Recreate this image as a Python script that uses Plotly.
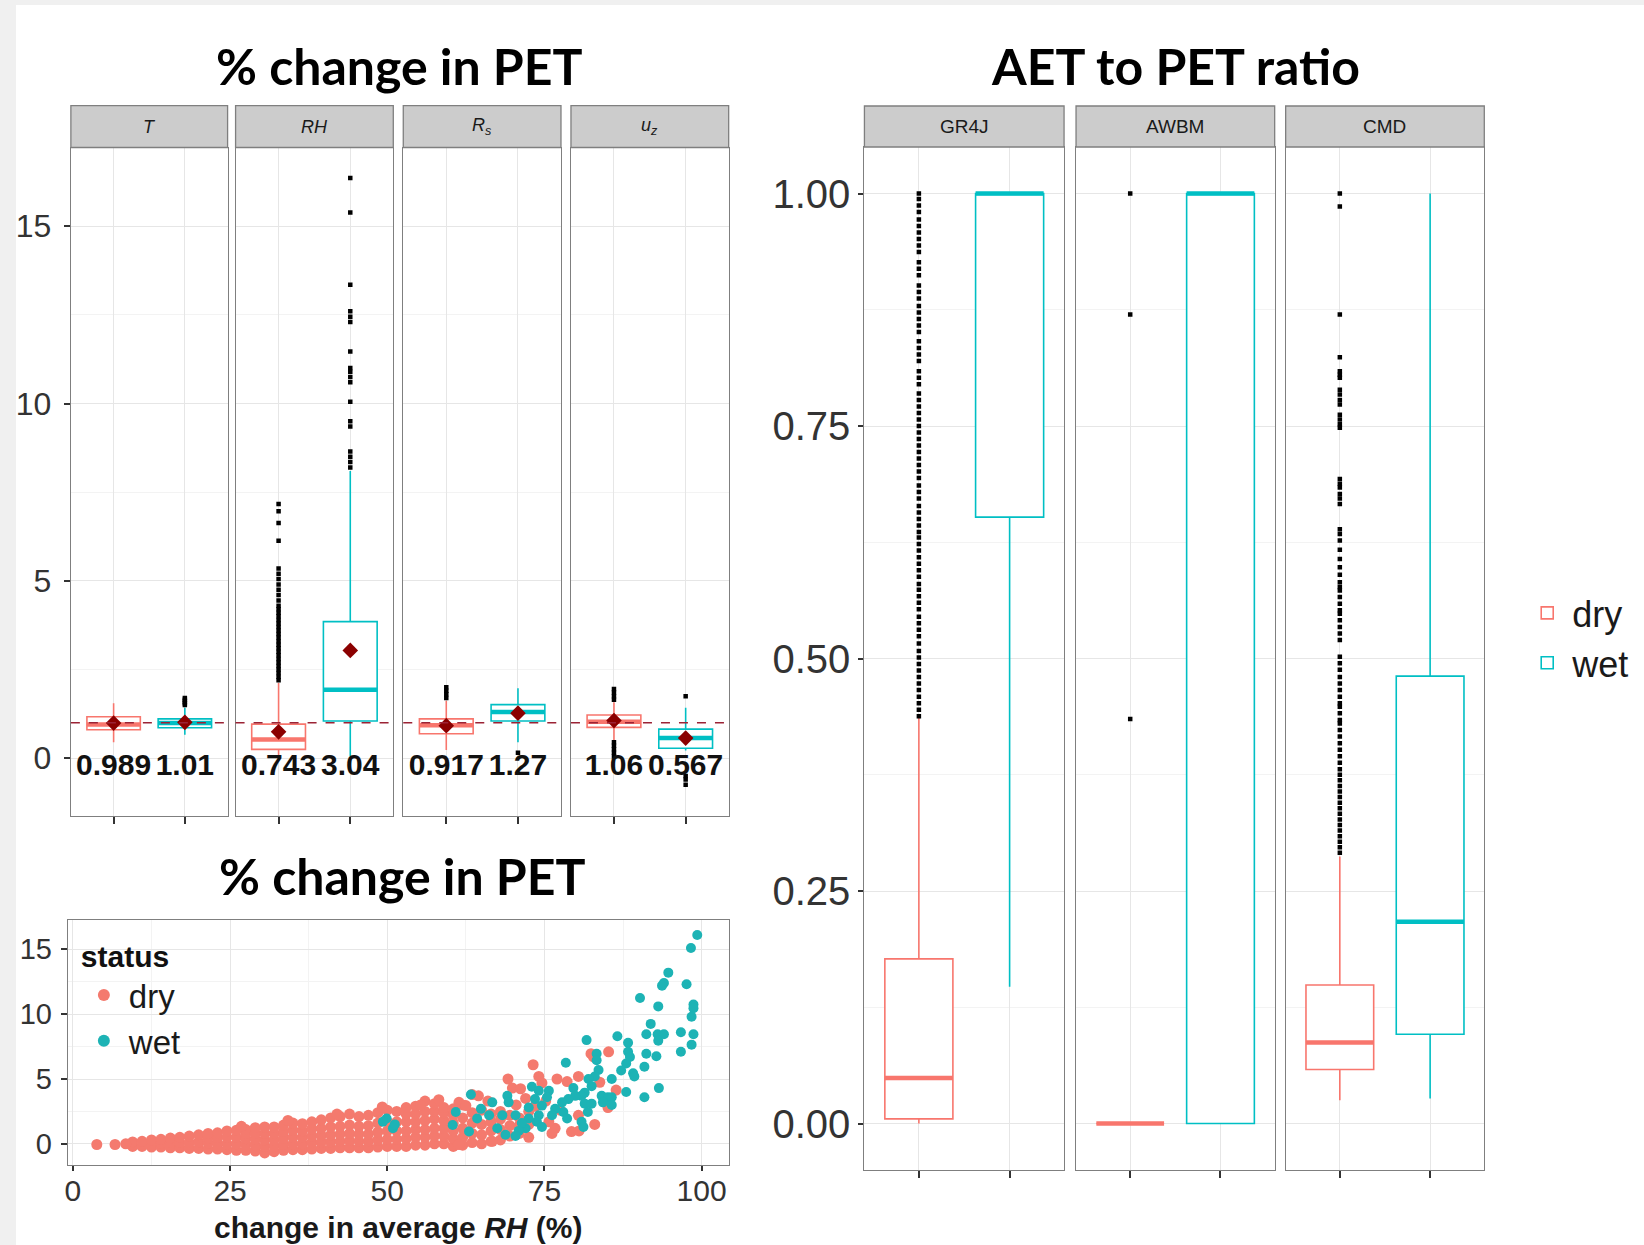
import plotly.graph_objects as go

W, H = 1644, 1245

# ---------------- data ----------------
STATUS = ["dry", "wet"]

# % change in PET boxplots, per variable: [dry, wet]
PET_VARS = ["T", "RH", "Rs", "uz"]
PET_STRIP = ["<i>T</i>", "<i>RH</i>", "<i>R</i><sub><i>s</i></sub>", "<i>u</i><sub><i>z</i></sub>"]
PET_Q1 = {"T": [0.80, 0.86], "RH": [0.25, 1.05], "Rs": [0.69, 1.05], "uz": [0.87, 0.28]}
PET_MED = {"T": [0.95, 0.99], "RH": [0.53, 1.93], "Rs": [0.93, 1.30], "uz": [1.03, 0.57]}
PET_Q3 = {"T": [1.17, 1.11], "RH": [0.96, 3.85], "Rs": [1.11, 1.51], "uz": [1.22, 0.82]}
PET_LO = {"T": [0.45, 0.66], "RH": [0.03, 0.05], "Rs": [0.23, 0.45], "uz": [0.50, 0.22]}
PET_HI = {"T": [1.55, 1.42], "RH": [2.12, 8.10], "Rs": [1.62, 1.97], "uz": [1.58, 1.42]}
PET_MEAN = {"T": [0.989, 1.01], "RH": [0.743, 3.04], "Rs": [0.917, 1.27], "uz": [1.06, 0.567]}
PET_OUT = {
    "T": [[], [1.50, 1.55, 1.60, 1.65, 1.70]],
    "RH": [[2.2, 2.3, 2.4, 2.5, 2.6, 2.7, 2.8, 2.9, 3.0, 3.1, 3.2, 3.3, 3.4, 3.5, 3.6, 3.7,
            3.8, 3.9, 4.0, 4.1, 4.2, 4.3, 4.45, 4.6, 4.75, 4.9, 5.05, 5.2, 5.35, 6.13,
            6.63, 6.96, 7.17],
           [8.2, 8.35, 8.5, 8.65, 9.35, 9.5, 10.05, 10.6, 10.75, 10.9, 11.0, 11.47,
            12.3, 12.45, 12.6, 13.35, 15.39, 16.36]],
    "Rs": [[1.7, 1.8, 1.9, 2.0], [0.15]],
    "uz": [[1.65, 1.75, 1.85, 1.95, 0.45, 0.35, 0.25, 0.15, 0.05], [1.75, -0.5, -0.6, -0.75]],
}
REF_LINE = 1.0

# AET to PET ratio boxplots
AET_MODELS = ["GR4J", "AWBM", "CMD"]
AET_Q1 = {"GR4J": [0.005, 0.652], "AWBM": [0.0, 0.0], "CMD": [0.058, 0.096]}
AET_MED = {"GR4J": [0.049, 1.0], "AWBM": [0.0, 1.0], "CMD": [0.087, 0.217]}
AET_Q3 = {"GR4J": [0.177, 1.0], "AWBM": [0.0, 1.0], "CMD": [0.149, 0.481]}
AET_LO = {"GR4J": [0.0, 0.147], "AWBM": [0.0, 0.0], "CMD": [0.025, 0.027]}
AET_HI = {"GR4J": [0.437, 1.0], "AWBM": [0.0, 1.0], "CMD": [0.287, 1.0]}
AET_OUT = {
    "GR4J": [[0.438, 0.445, 0.452, 0.459, 0.466, 0.473, 0.480, 0.487, 0.494, 0.501, 0.508,
              0.516, 0.524, 0.531, 0.538, 0.545, 0.553, 0.560, 0.567, 0.574, 0.580, 0.588,
              0.595, 0.602, 0.609, 0.616, 0.623, 0.630, 0.636, 0.643, 0.650, 0.657, 0.664,
              0.672, 0.679, 0.686, 0.694, 0.701, 0.708, 0.715, 0.722, 0.729, 0.736, 0.743,
              0.750, 0.757, 0.764, 0.771, 0.778, 0.785, 0.795, 0.802, 0.809, 0.820, 0.827,
              0.834, 0.841, 0.851, 0.858, 0.865, 0.872, 0.879, 0.887, 0.894, 0.901, 0.912,
              0.919, 0.926, 0.937, 0.944, 0.951, 0.958, 0.965, 0.972, 0.980, 0.987, 0.994,
              1.0], []],
    "AWBM": [[1.0, 0.870, 0.435], []],
    "CMD": [[1.0, 0.986, 0.870, 0.824, 0.809, 0.805, 0.802, 0.789, 0.784, 0.778, 0.773,
             0.762, 0.757, 0.752, 0.748, 0.693, 0.688, 0.684, 0.677, 0.672, 0.666, 0.639,
             0.634, 0.627, 0.617, 0.607, 0.598, 0.590, 0.582, 0.577, 0.573, 0.566, 0.559,
             0.552, 0.548, 0.541, 0.534, 0.527, 0.520, 0.502, 0.495, 0.488, 0.480, 0.473,
             0.466, 0.459, 0.452, 0.448, 0.441, 0.434, 0.430, 0.423, 0.416, 0.409, 0.402,
             0.395, 0.388, 0.381, 0.375, 0.369, 0.363, 0.357, 0.351, 0.345, 0.339, 0.333,
             0.327, 0.321, 0.315, 0.309, 0.303, 0.297, 0.291], []],
}

# scatter: % change in PET vs change in average RH
DRY_RH_COLS = [9.5, 11, 12.5, 14, 15.5, 17, 18.5, 20, 21.5, 23, 24.5, 26, 27.5, 29, 30.5,
               32, 33.5, 35, 36.5, 38, 39.5, 41, 42.5, 44, 45.5, 47, 48.5, 50, 51.5, 53,
               54.5, 56, 57.5, 59, 60.5, 62, 63.5, 65, 66.5, 68, 69.5, 71, 72.5]
DRY_PET_COLS = [
    [-0.2, 0.15], [-0.2, 0.2], [-0.25, 0.05, 0.3], [-0.25, 0.05, 0.35], [-0.3, 0.1, 0.45],
    [-0.3, 0.1, 0.5], [-0.35, 0.1, 0.6], [-0.35, 0.15, 0.7], [-0.4, 0.05, 0.45, 0.8],
    [-0.4, 0.05, 0.5, 0.85], [-0.45, 0.0, 0.5, 1.0], [-0.5, 0.0, 0.5, 1.05],
    [-0.5, -0.05, 0.4, 0.8, 1.1], [-0.55, -0.1, 0.35, 0.8, 1.25], [-0.7, -0.2, 0.3, 0.8, 1.3],
    [-0.6, -0.15, 0.3, 0.8, 1.3], [-0.5, -0.05, 0.45, 0.95, 1.45], [-0.45, 0.0, 0.5, 1.05, 1.6],
    [-0.45, 0.0, 0.5, 1.0, 1.55], [-0.4, 0.1, 0.6, 1.15, 1.7], [-0.35, 0.15, 0.65, 1.2, 1.85],
    [-0.35, 0.15, 0.7, 1.3, 2.0], [-0.3, 0.2, 0.75, 1.35, 2.1], [-0.3, 0.25, 0.8, 1.45, 2.3],
    [-0.3, 0.2, 0.75, 1.35, 2.1], [-0.3, 0.2, 0.75, 1.4, 2.2], [-0.25, 0.3, 0.9, 1.6, 2.4],
    [-0.2, 0.35, 1.0, 1.7, 2.6], [-0.2, 0.35, 1.0, 1.7, 2.5], [-0.2, 0.4, 1.0, 1.7, 2.3, 2.8],
    [-0.1, 0.5, 1.1, 1.7, 2.3, 2.9], [-0.1, 0.5, 1.1, 1.8, 2.5, 3.3], [0.0, 0.6, 1.2, 1.9, 2.5, 3.1],
    [0.0, 0.6, 1.2, 1.8, 2.4, 2.8], [-0.2, 0.4, 1.0, 1.6, 2.2, 2.7], [-0.1, 0.5, 1.2, 2.0, 3.0],
    [0.1, 0.8, 1.6, 2.4], [0.0, 0.7, 1.5, 2.6], [0.2, 1.0, 1.7, 2.3], [0.3, 1.1, 1.9, 2.5],
    [0.6, 1.4, 2.2], [0.8, 1.4, 2.0], [0.5, 1.5, 2.5]]
DRY_RH_EXTRA = [3.8, 6.7, 8.4, 85.2, 82.4, 82.8, 73.2, 69.2, 69.9, 71.2, 74.1, 74.6, 77.0,
                78.6, 80.4, 83.8, 86.4, 63.5, 61.4, 62.5, 80.4, 79.3, 76.7, 76.2, 75.7, 66.7,
                61.4, 85.1, 85.1, 73.5, 75.2, 77.5, 72.0, 70.5, 66.0, 64.5, 83.0, 80.5,
                26.8, 34.2, 42.0, 49.2, 55.3, 58.2]
DRY_PET_EXTRA = [-0.05, -0.05, 0.0, 7.1, 6.95, 6.7, 6.1, 5.0, 4.3, 4.25, 5.2, 4.7, 5.0,
                 4.8, 5.2, 4.75, 4.15, 3.8, 3.2, 2.95, 2.2, 0.95, 1.2, 0.8, 1.7, 0.2,
                 -0.05, 3.2, 2.8, 2.9, 3.3, 2.6, 3.5, 3.0, 3.3, 3.7, 1.5, 1.0,
                 1.35, 1.8, 2.3, 2.85, 3.0, 3.4]
WET_RH = [99.3, 98.3, 94.7, 94.0, 93.7, 97.6, 90.2, 93.1, 98.7, 98.7, 98.4, 91.9, 91.2,
          93.0, 94.0, 93.1, 96.7, 98.7, 98.4, 96.7, 86.6, 88.3, 81.7, 88.3, 88.6, 88.0,
          91.2, 92.8, 90.9, 87.2, 89.1, 89.3, 85.7, 83.3, 83.3, 83.6, 83.0, 78.4, 93.2,
          90.9, 88.0, 82.0, 82.5, 81.4, 80.9, 84.1, 85.1, 84.3, 75.7, 75.4, 73.0, 79.6,
          79.9, 78.8, 81.4, 82.5, 81.9, 80.9, 81.2, 77.8, 78.0, 78.6, 76.7, 76.2, 74.6,
          74.1, 73.8, 74.6, 72.5, 72.0, 70.9, 70.4, 69.1, 69.3, 70.4, 71.4, 72.5, 68.3,
          67.5, 68.8, 66.7, 66.2, 64.9, 64.3, 63.0, 63.3, 60.9, 60.4, 49.9, 50.9, 74.1,
          73.5, 85.7, 85.7, 49.3, 51.2]
WET_PET = [16.1, 15.1, 13.2, 12.4, 12.2, 12.3, 11.25, 10.6, 10.75, 10.45, 9.8, 9.25, 8.45,
           8.45, 8.45, 7.95, 8.6, 8.45, 7.65, 7.1, 8.3, 7.8, 8.0, 7.1, 6.7, 6.2,
           6.95, 6.75, 5.95, 5.65, 5.45, 5.2, 5.0, 6.95, 6.45, 5.7, 5.2, 6.25, 4.3,
           3.6, 4.0, 5.0, 4.45, 3.95, 3.7, 3.7, 3.6, 3.2, 4.1, 3.6, 4.4, 4.3,
           3.7, 3.45, 3.1, 3.1, 2.45, 1.7, 1.3, 3.2, 2.45, 1.95, 2.7, 2.2, 2.95,
           2.2, 1.7, 1.3, 1.95, 1.2, 1.0, 0.6, 3.7, 3.2, 2.2, 1.6, 2.8, 2.2,
           1.2, 0.7, 3.2, 2.2, 2.7, 1.95, 0.95, 3.8, 2.45, 1.45, 1.95, 1.2, 4.1,
           3.45, 3.6, 3.0, 1.7, 1.5]

DRY_RH, DRY_PET = [], []
for xv, ys in zip(DRY_RH_COLS, DRY_PET_COLS):
    for yv in ys:
        DRY_RH.append(xv)
        DRY_PET.append(yv)
DRY_RH += DRY_RH_EXTRA
DRY_PET += DRY_PET_EXTRA

# ---------------- style / layout constants ----------------
COLORS = {"dry": "#F8766D", "wet": "#00BFC4"}
SCAT_COLORS = {"dry": "#F47A6E", "wet": "#1DB3B5"}
SCAT_SIZE = {"dry": 11, "wet": 10}
POS = [1, 2]
BOX_W = 0.75
LABEL_Y = -0.25
TICK_FONT = "Liberation Sans, Arial, sans-serif"
TITLE_FONT = "Lato, Open Sans, sans-serif"
GRID = "#e6e6e6"
MINOR_GRID = "#f3f3f3"
BORDER = "#7f7f7f"
TICKC = "#333333"

PET_PANELS_X = [(68, 225), (233, 391), (401, 559), (569, 727)]
PET_Y = (147.5, 816)
PET_STRIP_Y = (105.6, 147.5)
SC_X = (65, 727)
SC_Y = (920, 1165)
AET_PANELS_X = [(863, 1063), (1075, 1274), (1285, 1484)]
AET_Y = (147, 1170)
AET_STRIP_Y = (106, 147)


def fx(x):
    return x / W


def fy(y):
    return 1 - y / H


fig = go.Figure()
layout = {}
shapes = []
annotations = []


def add_box_panel(idx, q1, med, q3, lo, hi, outs, show_legend):
    xa = "x" if idx == 1 else f"x{idx}"
    ya = "y" if idx == 1 else f"y{idx}"
    for i, st in enumerate(STATUS):
        col = COLORS[st]
        fig.add_trace(go.Box(
            x=[POS[i]], q1=[q1[i]], median=[med[i]], q3=[q3[i]],
            lowerfence=[lo[i]], upperfence=[hi[i]], width=BOX_W, whiskerwidth=0,
            fillcolor="white", line=dict(color=col, width=1.6), boxpoints=False,
            name=st, legend="legend", legendgroup=st, showlegend=show_legend,
            xaxis=xa, yaxis=ya, hoverinfo="skip"))
        fig.add_trace(go.Scatter(
            x=[POS[i] - BOX_W / 2, POS[i] + BOX_W / 2], y=[med[i], med[i]], mode="lines",
            line=dict(color=col, width=4.5), showlegend=False, xaxis=xa, yaxis=ya,
            hoverinfo="skip"))
        if outs[i]:
            fig.add_trace(go.Scatter(
                x=[POS[i]] * len(outs[i]), y=outs[i], mode="markers",
                marker=dict(color="black", size=4.5, symbol="square"), showlegend=False,
                xaxis=xa, yaxis=ya, hoverinfo="skip"))


def box_xaxis(x0, x1, anchor):
    return dict(domain=[fx(x0), fx(x1)], anchor=anchor, range=[0.4, 2.6],
                tickmode="array", tickvals=POS, ticktext=["", ""], ticks="outside",
                ticklen=7, tickwidth=1.5, tickcolor=TICKC, showgrid=True, gridcolor=GRID,
                showline=True, mirror=True, linecolor=BORDER, linewidth=1.3,
                zeroline=False)


# ---- % change in PET panels ----
for k, var in enumerate(PET_VARS):
    idx = k + 1
    add_box_panel(idx, PET_Q1[var], PET_MED[var], PET_Q3[var], PET_LO[var], PET_HI[var],
                  PET_OUT[var], False)
    xa = "x" if idx == 1 else f"x{idx}"
    ya = "y" if idx == 1 else f"y{idx}"
    fig.add_trace(go.Scatter(x=POS, y=PET_MEAN[var], mode="markers",
                             marker=dict(color="#8B0000", size=12, symbol="diamond"),
                             showlegend=False, xaxis=xa, yaxis=ya, hoverinfo="skip"))
    fig.add_trace(go.Scatter(x=POS, y=[LABEL_Y, LABEL_Y], mode="text",
                             text=[f"{v:.3g}" for v in PET_MEAN[var]],
                             textposition="middle center",
                             textfont=dict(family=TICK_FONT, size=30, color="#111111",
                                           weight="bold"),
                             showlegend=False, xaxis=xa, yaxis=ya, hoverinfo="skip",
                             cliponaxis=False))
    x0, x1 = PET_PANELS_X[k]
    layout["xaxis" if idx == 1 else f"xaxis{idx}"] = box_xaxis(x0, x1, ya)
    yax = dict(domain=[fy(PET_Y[1]), fy(PET_Y[0])], anchor=xa, range=[-1.63, 17.22],
               tickmode="linear", tick0=0, dtick=5, showgrid=True, gridcolor=GRID,
               minor=dict(tickmode="linear", tick0=2.5, dtick=5, showgrid=True,
                          gridcolor=MINOR_GRID, ticks=""),
               showline=True, mirror=True, linecolor=BORDER, linewidth=1.3, zeroline=False)
    if idx == 1:
        yax.update(ticks="outside", ticklen=6, tickwidth=1.5, tickcolor=TICKC,
                   ticklabelstandoff=6,
                   tickfont=dict(family=TICK_FONT, size=32, color=TICKC))
    else:
        yax.update(showticklabels=False, ticks="")
    layout["yaxis" if idx == 1 else f"yaxis{idx}"] = yax
    shapes.append(dict(type="line", xref=f"{xa} domain", yref=ya, x0=0, x1=1,
                       y0=REF_LINE, y1=REF_LINE,
                       line=dict(color="#9b2335", width=1.6, dash="dash")))
    shapes.append(dict(type="rect", xref="paper", yref="paper", x0=fx(x0), x1=fx(x1),
                       y0=fy(PET_STRIP_Y[1]), y1=fy(PET_STRIP_Y[0]),
                       fillcolor="#cccccc", line=dict(color=BORDER, width=1.3)))
    annotations.append(dict(xref="paper", yref="paper", x=fx((x0 + x1) / 2),
                            y=fy(sum(PET_STRIP_Y) / 2), text=PET_STRIP[k], showarrow=False,
                            font=dict(family=TICK_FONT, size=18, color="#1a1a1a"),
                            xanchor="center", yanchor="middle"))

# ---- scatter panel ----
SC = 5
for st, xs, ys in (("dry", DRY_RH, DRY_PET), ("wet", WET_RH, WET_PET)):
    fig.add_trace(go.Scatter(x=xs, y=ys, mode="markers", name=st, legend="legend2",
                             marker=dict(color=SCAT_COLORS[st], size=SCAT_SIZE[st]),
                             xaxis=f"x{SC}", yaxis=f"y{SC}", hoverinfo="skip"))
layout[f"xaxis{SC}"] = dict(
    domain=[fx(SC_X[0]), fx(SC_X[1])], anchor=f"y{SC}", range=[-0.8, 104.3],
    tickmode="linear", tick0=0, dtick=25, ticks="outside", ticklen=5, tickwidth=1.5,
    ticklabelstandoff=-6,
    tickcolor=TICKC, tickfont=dict(family=TICK_FONT, size=30, color=TICKC),
    showgrid=True, gridcolor=GRID,
    minor=dict(tickmode="linear", tick0=12.5, dtick=25, showgrid=True,
               gridcolor=MINOR_GRID, ticks=""),
    showline=True, mirror=True, linecolor=BORDER, linewidth=1.3, zeroline=False)
layout[f"yaxis{SC}"] = dict(
    domain=[fy(SC_Y[1]), fy(SC_Y[0])], anchor=f"x{SC}", range=[-1.63, 17.26],
    tickmode="linear", tick0=0, dtick=5, ticks="outside", ticklen=6, tickwidth=1.5,
    ticklabelstandoff=3,
    tickcolor=TICKC, tickfont=dict(family=TICK_FONT, size=29, color=TICKC),
    showgrid=True, gridcolor=GRID,
    minor=dict(tickmode="linear", tick0=2.5, dtick=5, showgrid=True,
               gridcolor=MINOR_GRID, ticks=""),
    showline=True, mirror=True, linecolor=BORDER, linewidth=1.3, zeroline=False)
annotations.append(dict(xref="paper", yref="paper", x=fx((SC_X[0] + SC_X[1]) / 2),
                        y=fy(1227), text="<b>change in average <i>RH</i> (%)</b>",
                        showarrow=False, xanchor="center", yanchor="middle",
                        font=dict(family=TICK_FONT, size=30, color="#1a1a1a")))

# ---- AET to PET ratio panels ----
for k, m in enumerate(AET_MODELS):
    idx = 6 + k
    add_box_panel(idx, AET_Q1[m], AET_MED[m], AET_Q3[m], AET_LO[m], AET_HI[m],
                  AET_OUT[m], k == 0)
    xa, ya = f"x{idx}", f"y{idx}"
    x0, x1 = AET_PANELS_X[k]
    layout[f"xaxis{idx}"] = box_xaxis(x0, x1, ya)
    yax = dict(domain=[fy(AET_Y[1]), fy(AET_Y[0])], anchor=xa, range=[-0.05, 1.05],
               tickmode="linear", tick0=0, dtick=0.25, tickformat=".2f",
               showgrid=True, gridcolor=GRID,
               minor=dict(tickmode="linear", tick0=0.125, dtick=0.25, showgrid=True,
                          gridcolor=MINOR_GRID, ticks=""),
               showline=True, mirror=True, linecolor=BORDER, linewidth=1.3, zeroline=False)
    if k == 0:
        yax.update(ticks="outside", ticklen=5, tickwidth=1.5, tickcolor=TICKC,
                   tickfont=dict(family=TICK_FONT, size=40, color=TICKC))
    else:
        yax.update(showticklabels=False, ticks="")
    layout[f"yaxis{idx}"] = yax
    shapes.append(dict(type="rect", xref="paper", yref="paper", x0=fx(x0), x1=fx(x1),
                       y0=fy(AET_STRIP_Y[1]), y1=fy(AET_STRIP_Y[0]),
                       fillcolor="#cccccc", line=dict(color=BORDER, width=1.3)))
    annotations.append(dict(xref="paper", yref="paper", x=fx((x0 + x1) / 2),
                            y=fy(sum(AET_STRIP_Y) / 2), text=m, showarrow=False,
                            font=dict(family=TICK_FONT, size=19, color="#1a1a1a"),
                            xanchor="center", yanchor="middle"))

# ---- titles ----
for text, cx, cy in (("% change in PET", 397, 66), ("AET to PET ratio", 1175, 66),
                     ("% change in PET", 400, 876)):
    annotations.append(dict(xref="paper", yref="paper", x=fx(cx), y=fy(cy),
                            text=f"<b>{text}</b>", showarrow=False,
                            font=dict(family=TITLE_FONT, size=50, color="black"),
                            xanchor="center", yanchor="middle"))

# background: light grey frame at top/left, white page
shapes.insert(0, dict(type="rect", xref="paper", yref="paper", x0=fx(13), x1=1, y0=0,
                      y1=fy(5), fillcolor="white", line=dict(width=0), layer="below"))

fig.update_layout(
    width=W, height=H, autosize=False, margin=dict(l=0, r=0, t=0, b=0),
    paper_bgcolor="#f0f0f0", plot_bgcolor="white", hovermode=False,
    shapes=shapes, annotations=annotations, boxmode="overlay",
    legend=dict(x=fx(1522), y=fy(583), xanchor="left", yanchor="top",
                font=dict(family=TICK_FONT, size=36, color="#1a1a1a"),
                bgcolor="rgba(0,0,0,0)", tracegroupgap=0, itemwidth=40),
    legend2=dict(x=fx(76), y=fy(928), xanchor="left", yanchor="top",
                 title=dict(text="<b>status</b>",
                            font=dict(family=TICK_FONT, size=30, color="#111111")),
                 font=dict(family=TICK_FONT, size=33, color="#1a1a1a"),
                 bgcolor="rgba(0,0,0,0)", itemsizing="constant", itemwidth=40),
    **layout,
)

fig.write_html("out.html", config={"displayModeBar": False},
               post_script="document.body.style.margin='0px';")
